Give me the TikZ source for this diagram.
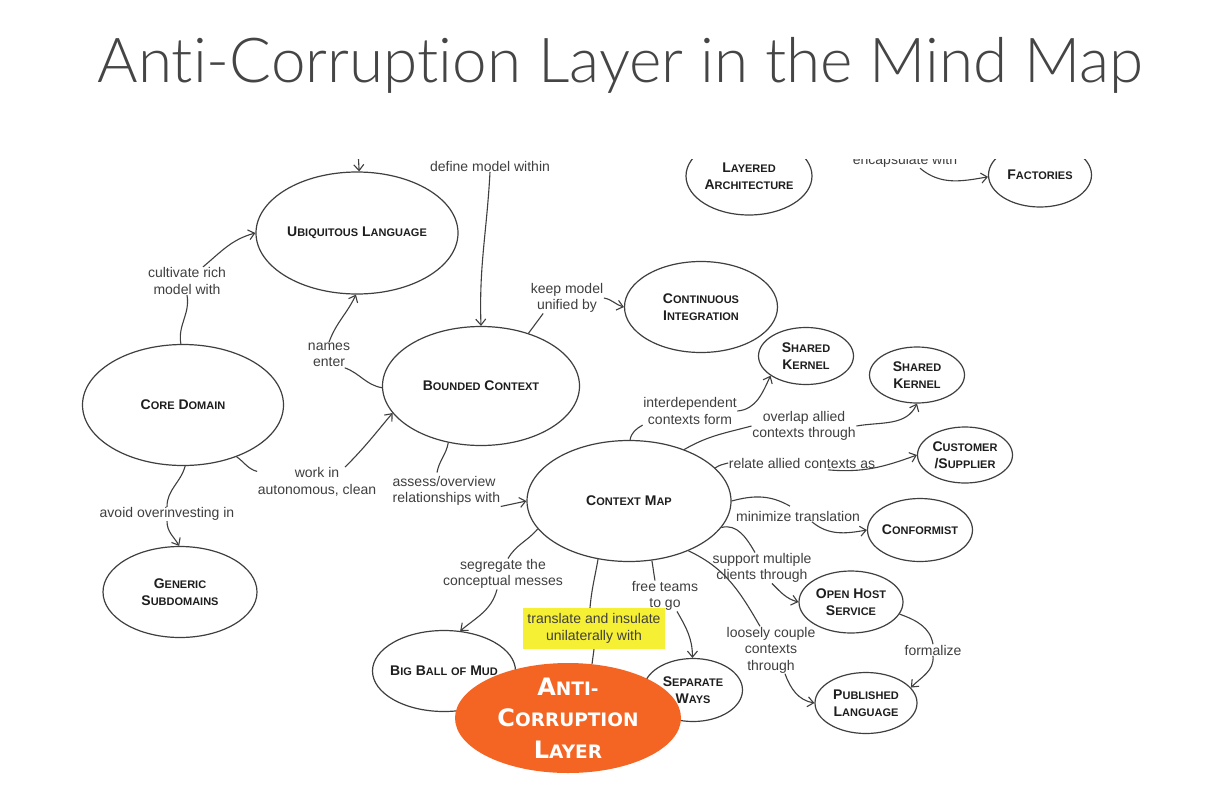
\documentclass[tikz,border=0pt]{standalone}
\usepackage{fontspec}
\setmainfont{Liberation Sans}
\newfontfamily\aclfont{DejaVu Sans}
\IfFontExistsTF{Lato Light}{\newfontfamily\titlefont{Lato Light}[Ligatures={NoCommon}]}{\newfontfamily\titlefont{Liberation Sans}}
\usetikzlibrary{shapes.geometric,arrows.meta}

\definecolor{ink}{HTML}{3F3F3F}
\definecolor{nodeink}{HTML}{1E1E1E}
\definecolor{aclorange}{RGB}{244,101,36}
\definecolor{marker}{RGB}{246,240,52}
\definecolor{titlegray}{HTML}{454545}

% small-caps imitation: first letter large, rest in smaller capitals
\newcommand\smc{\fontsize{11}{17}\selectfont}
\newcommand\capw[2]{#1{\smc #2}}
\newcommand\aclsmall{\fontsize{18.5}{31.5}\selectfont}
\newcommand\aclw[2]{#1{\aclsmall #2}}

\tikzset{
  concept/.style={ellipse, draw=ink, line width=1.2pt, inner sep=-8pt,
    text=nodeink, font=\fontsize{14}{17}\selectfont\bfseries, align=center},
  lbl/.style={inner sep=0.5pt, text=ink, font=\fontsize{14}{16.5}\selectfont, align=center},
  link/.style={draw=ink, line width=1.1pt},
  arr/.style={link, -{Straight Barb[length=6pt,width=10pt]}},
}

\begin{document}
\begin{tikzpicture}[x=1pt,y=-1pt]
\useasboundingbox (0,0) rectangle (1231,787);
\fill[white] (0,0) rectangle (1231,787);

\node[anchor=base, inner sep=0pt, text=titlegray, font=\titlefont\fontsize{62}{70}\selectfont]
  (title) at (620.5,82) {Anti-Corruption Layer in the Mind Map};

\begin{scope}
\clip (0,159) rectangle (1231,787);

% concepts
\node[concept, minimum width=202pt, minimum height=122pt] (UL) at (357,233) {\capw{U}{BIQUITOUS} \capw{L}{ANGUAGE}};
\node[concept, minimum width=201pt, minimum height=121pt] (CD) at (183,405) {\capw{C}{ORE} \capw{D}{OMAIN}};
\node[concept, minimum width=197pt, minimum height=119pt] (BC) at (481,386) {\capw{B}{OUNDED} \capw{C}{ONTEXT}};
\node[concept, minimum width=153pt, minimum height=91pt] (CI) at (701,307) {\capw{C}{ONTINUOUS}\\\capw{I}{NTEGRATION}};
\node[concept, minimum width=126pt, minimum height=78pt] (LA) at (749,176) {\capw{L}{AYERED}\\\capw{A}{RCHITECTURE}};
\node[concept, minimum width=103pt, minimum height=64pt] (FA) at (1040,175) {\capw{F}{ACTORIES}};
\node[concept, minimum width=95pt, minimum height=57pt] (SK1) at (806,356) {\capw{S}{HARED}\\\capw{K}{ERNEL}};
\node[concept, minimum width=95pt, minimum height=56pt] (SK2) at (917,375) {\capw{S}{HARED}\\\capw{K}{ERNEL}};
\node[concept, minimum width=95pt, minimum height=56pt] (CS) at (965,455) {\capw{C}{USTOMER}\\/\capw{S}{UPPLIER}};
\node[concept, minimum width=105pt, minimum height=63pt] (CF) at (920,530) {\capw{C}{ONFORMIST}};
\node[concept, minimum width=104pt, minimum height=62pt] (OH) at (851,602) {\capw{O}{PEN} \capw{H}{OST}\\\capw{S}{ERVICE}};
\node[concept, minimum width=102pt, minimum height=61pt] (PL) at (866,703) {\capw{P}{UBLISHED}\\\capw{L}{ANGUAGE}};
\node[concept, minimum width=204pt, minimum height=121pt] (CM) at (629,501) {\capw{C}{ONTEXT} \capw{M}{AP}};
\node[concept, minimum width=154pt, minimum height=91pt] (GS) at (180,592) {\capw{G}{ENERIC}\\\capw{S}{UBDOMAINS}};
\node[concept, minimum width=143pt, minimum height=81pt] (BB) at (444,671) {\capw{B}{IG} \capw{B}{ALL} {\smc OF} \capw{M}{UD}};
\node[concept, minimum width=99pt, minimum height=63pt] (SW) at (693,690) {\capw{S}{EPARATE}\\\capw{W}{AYS}};
\node[ellipse, fill=aclorange, inner xsep=-8pt, inner ysep=-14pt, minimum width=226pt, minimum height=110pt,
  text=white, align=center, font=\aclfont\fontsize{24}{31.5}\selectfont\bfseries]
  (ACL) at (568,718) {\aclw{A}{NTI-}\\\aclw{C}{ORRUPTION}\\\aclw{L}{AYER}};

% relation labels
\node[lbl] (dmw) at (490,166) {define model within};
\node[lbl] (cr) at (187,281) {cultivate rich\\model with};
\node[lbl] (ne) at (329,355) {names\\enter};
\node[lbl] (wi) at (317,482) {work in\\autonomous, clean};
\node[lbl] (ao) at (167,514) {avoid overinvesting in};
\node[lbl] (km) at (567,298) {keep model\\unified by};
\node[lbl, align=left, anchor=west] (as) at (392,491) {assess/overview\\relationships with};
\node[lbl] (idc) at (690,411) {interdependent\\contexts form};
\node[lbl] (oa) at (804,426) {overlap allied\\contexts through};
\node[lbl] (ra) at (802,463) {relate allied contexts as};
\node[lbl] (mt) at (798,516) {minimize translation};
\node[lbl] (sm) at (762,568) {support multiple\\clients through};
\node[lbl] (lc) at (771,650) {loosely couple\\contexts\\through};
\node[lbl] (fz) at (933,650) {formalize};
\node[lbl] (ft) at (665,596) {free teams\\to go};
\node[lbl] (sg) at (503,574) {segregate the\\conceptual messes};
\node[lbl, fill=marker, inner sep=0pt, minimum width=142pt, minimum height=41pt] (tr) at (594,628.5) {translate and insulate\\unilaterally with};
\node[lbl] (ew) at (905,161) {encapsulate with};
\coordinate (above) at (358,150);

% connectors
\draw[arr] (above) -- (UL.88);
\draw[arr] (dmw.south) to[out=-93,in=92] (BC.90);
\draw[link] (CD.92) to[out=100,in=-80] (cr.south);
\draw[arr] ([xshift=16pt]cr.north) to[out=40,in=195] (UL.180);
\draw[link] (BC.181) to[out=170,in=-20] ([xshift=-6pt]ne.south east);
\draw[arr] (ne.north) to[out=70,in=-115] (UL.-91);
\draw[link] (CD.-44) to[out=-35,in=165] (wi.170);
\draw[arr] (wi.28) to[out=45,in=-130] (BC.197);
\draw[link] (CD.-88) to[out=-105,in=90] (ao.north);
\draw[arr] (ao.south) to[out=-90,in=120] (GS.91);
\draw[link] (BC.48) -- (km.-147);
\draw[arr] (km.east) to[out=-10,in=165] (CI.180);
\draw[link] (BC.-120) to[out=-100,in=80] ([xshift=45pt,yshift=3pt]as.north west);
\draw[arr] (as.south east) -- (CM.180);
\draw[link] (CM.89) to[out=80,in=-150] (idc.south west);
\draw[arr] (idc.east) to[out=5,in=-115] (SK1.209);
\draw[link] (CM.43) to[out=30,in=195] (oa.west);
\draw[arr] (oa.east) to[out=10,in=-115] (SK2.-90);
\draw[link] (CM.21) to[out=35,in=195] (ra.west);
\draw[arr] ([xshift=26pt,yshift=-1pt]ra.south) to[out=-5,in=200] (CS.180);
\draw[link] (CM.0) to[out=15,in=150] ([xshift=-8pt,yshift=4pt]mt.north);
\draw[arr] ([xshift=14pt]mt.south) to[out=-40,in=190] (CF.180);
\draw[link] (CM.-16) to[out=15,in=120] ([xshift=-7pt]sm.north);
\draw[arr] ([xshift=10pt]sm.south) to[out=-45,in=165] (OH.180);
\draw[link] (CM.-40) to[out=-25,in=120] ([xshift=-11pt]lc.north);
\draw[arr] ([xshift=14pt]lc.south) to[out=-70,in=170] (PL.180);
\draw[link] (OH.-14) to[out=-20,in=100] (fz.north);
\draw[arr] (fz.south) to[out=-85,in=45] (PL.19);
\draw[link] (CM.-69) to[out=-80,in=100] ([xshift=-10pt]ft.north);
\draw[arr] ([xshift=12pt]ft.south) to[out=-60,in=90] (SW.91);
\draw[link] (CM.197) to[out=-130,in=60] ([xshift=5pt]sg.north);
\draw[arr] ([xshift=-6pt]sg.south) to[out=-105,in=40] (BB.68);
\draw[link] (CM.242) to[out=-100,in=85] ([xshift=-4pt]tr.north);
\draw[link] (tr.south) -- (ACL.66);
\draw[arr] ([xshift=15pt]ew.south) to[out=-40,in=190] (FA.182);
\end{scope}
\end{tikzpicture}
\end{document}
